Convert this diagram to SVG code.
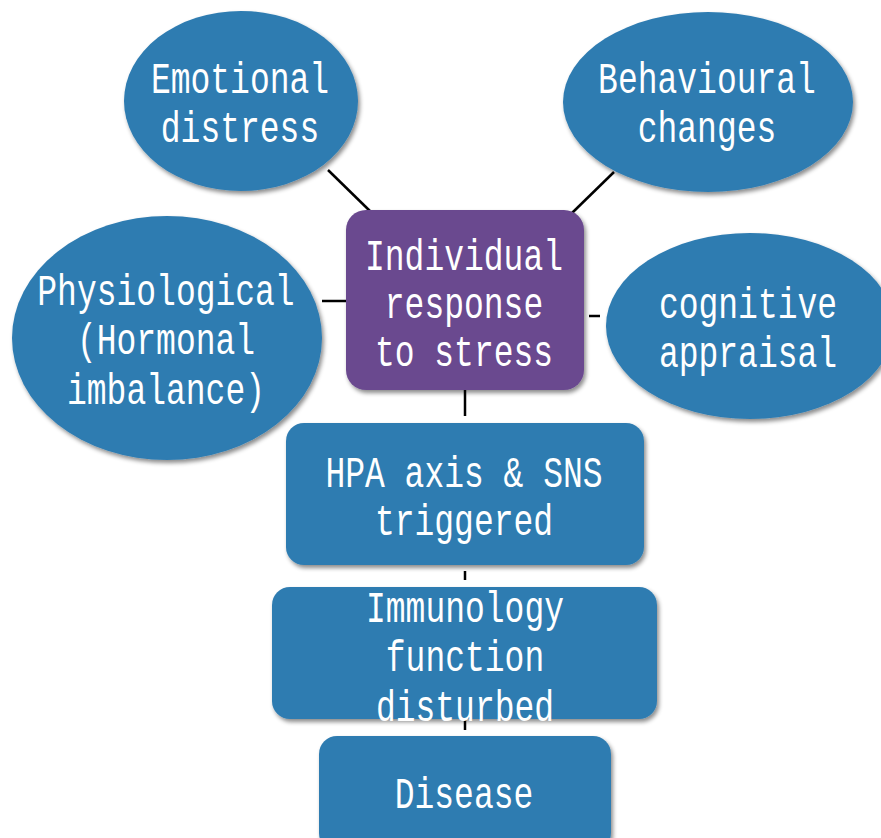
<svg xmlns="http://www.w3.org/2000/svg" width="881" height="838" viewBox="0 0 881 838">
<defs>
<filter id="sh" x="-10%" y="-10%" width="125%" height="130%">
<feDropShadow dx="2" dy="3" stdDeviation="2" flood-color="#000" flood-opacity="0.45"/>
</filter>
<style>
.b{fill:#2f7cb1;filter:url(#sh)}
.p{fill:#6b4a8f;filter:url(#sh)}
.t{font-family:"Liberation Mono","DejaVu Sans Mono",monospace;font-size:33px;fill:#fff;text-anchor:middle}
.c{stroke:#000;stroke-width:2.5;fill:none}
</style>
</defs>
<rect width="881" height="838" fill="#fff"/>
<g id="connectors">
<line class="c" x1="328" y1="170" x2="372" y2="213"/>
<line class="c" x1="614" y1="172" x2="572" y2="213"/>
<line class="c" x1="322" y1="301" x2="347" y2="301"/>
<line class="c" x1="589" y1="316" x2="600" y2="316"/>
<line class="c" x1="465" y1="390" x2="465" y2="416"/>
<line class="c" x1="465" y1="571" x2="465" y2="580"/>
<line class="c" x1="465" y1="716" x2="465" y2="730"/>
</g>
<g id="emotional">
<ellipse class="b" cx="241" cy="101" rx="117" ry="90"/>
<text class="t" transform="translate(240,93) scale(1,1.35)"><tspan x="0" y="0">Emotional</tspan><tspan x="0" dy="36.5">distress</tspan></text>
</g>
<g id="behavioural">
<ellipse class="b" cx="708" cy="102" rx="145" ry="90"/>
<text class="t" transform="translate(707,93) scale(1,1.35)"><tspan x="0" y="0">Behavioural</tspan><tspan x="0" dy="36.5">changes</tspan></text>
</g>
<g id="physiological">
<ellipse class="b" cx="167" cy="338" rx="155" ry="122"/>
<text class="t" transform="translate(166,305) scale(1,1.35)"><tspan x="0" y="0">Physiological</tspan><tspan x="0" dy="36.5">(Hormonal</tspan><tspan x="0" dy="36.5">imbalance)</tspan></text>
</g>
<g id="cognitive">
<ellipse class="b" cx="750" cy="326" rx="144" ry="93"/>
<text class="t" transform="translate(748,318) scale(1,1.35)"><tspan x="0" y="0">cognitive</tspan><tspan x="0" dy="36.5">appraisal</tspan></text>
</g>
<g id="individual">
<rect class="p" x="346" y="210" width="238" height="180" rx="20"/>
<text class="t" transform="translate(464,270) scale(1,1.35)"><tspan x="0" y="0">Individual</tspan><tspan x="0" dy="35.5">response</tspan><tspan x="0" dy="35.5">to stress</tspan></text>
</g>
<g id="hpa">
<rect class="b" x="286" y="423" width="358" height="142" rx="18"/>
<text class="t" transform="translate(464,487) scale(1,1.35)"><tspan x="0" y="0">HPA axis &amp; SNS</tspan><tspan x="0" dy="35.5">triggered</tspan></text>
</g>
<g id="immunology">
<rect class="b" x="272" y="587" width="385" height="132" rx="18"/>
<text class="t" transform="translate(465,622) scale(1,1.35)"><tspan x="0" y="0">Immunology</tspan><tspan x="0" dy="36.5">function</tspan><tspan x="0" dy="36.5">disturbed</tspan></text>
</g>
<g id="disease">
<rect class="b" x="319" y="736" width="292" height="115" rx="18"/>
<text class="t" transform="translate(464,808) scale(1,1.35)">Disease</text>
</g>
</svg>
